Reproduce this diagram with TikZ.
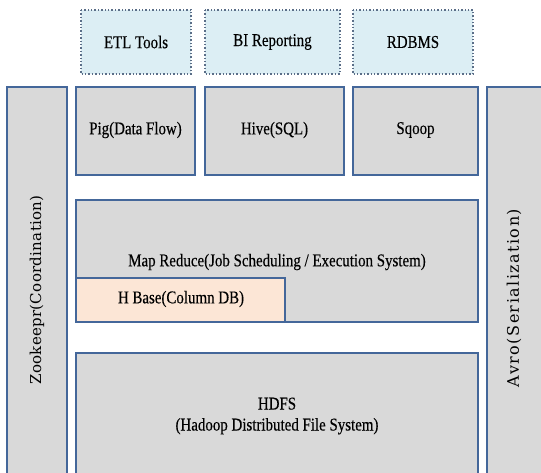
\documentclass[tikz,border=0pt]{standalone}
\usepackage{fontspec}
\setmainfont{Liberation Serif}[FakeStretch=0.83,FakeBold=0.3]
\newfontfamily\zoofont{DejaVu Serif}[LetterSpace=2]
\newfontfamily\avrofont{DejaVu Serif}[LetterSpace=9]
\definecolor{boxgray}{HTML}{D9D9D9}
\definecolor{boxedge}{HTML}{44679A}
\definecolor{toolfill}{HTML}{DCEEF4}
\definecolor{tooledge}{HTML}{5A6E88}
\definecolor{hbasefill}{HTML}{FCE6D6}
\tikzset{
  layer/.style={fill=boxgray, draw=boxedge, line width=1.6pt},
  tool/.style={fill=toolfill, draw=tooledge, line width=1.4pt, dotted},
  lbl/.style={font=\fontsize{18}{21}\selectfont, text=black, inner sep=0pt},
  rlbl/.style={text=black, inner sep=0pt, rotate=90},
}
\begin{document}
\begin{tikzpicture}[x=1pt,y=-1pt]
\useasboundingbox (0,0) rectangle (541,472);
\fill[white] (0,0) rectangle (541,472);
\begin{scope}
\clip (0,0) rectangle (541,472);
% top tools
\draw[tool] (81,10) rectangle (191,74);
\node[lbl] (etl) at (136,42) {ETL Tools};
\draw[tool] (205,10) rectangle (340,74);
\node[lbl] (bi) at (272.5,42) {BI Reporting};
\draw[tool] (353,10) rectangle (473,74);
\node[lbl] (rdbms) at (413,42) {RDBMS};
% side columns
\draw[layer] (7,87) rectangle (67,480);
\node[rlbl, font=\zoofont\fontsize{15}{17}\selectfont] (zoo) at (37,290) {Zookeepr(Coordination)};
\draw[layer] (487,87) rectangle (550,480);
\node[rlbl, font=\avrofont\fontsize{16}{18}\selectfont] (avro) at (514,298) {Avro(Serialization)};
% second row
\draw[layer] (76,87) rectangle (195,175);
\node[lbl] (pig) at (135.5,130) {Pig(Data Flow)};
\draw[layer] (205,87) rectangle (344,175);
\node[lbl] (hive) at (274.5,130) {Hive(SQL)};
\draw[layer] (353,87) rectangle (478,175);
\node[lbl] (sqoop) at (415.5,130) {Sqoop};
% map reduce
\draw[layer] (76,200) rectangle (478,322);
\node[lbl] (mr) at (277,262) {Map Reduce(Job Scheduling / Execution System)};
\draw[layer, fill=hbasefill] (76,278) rectangle (285,322);
\node[lbl] (hbase) at (181,299) {H Base(Column DB)};
% hdfs
\draw[layer] (76,353) rectangle (478,480);
\node[lbl, align=center] (hdfs) at (277,416) {HDFS\\(Hadoop Distributed File System)};
\end{scope}
\end{tikzpicture}
\end{document}
